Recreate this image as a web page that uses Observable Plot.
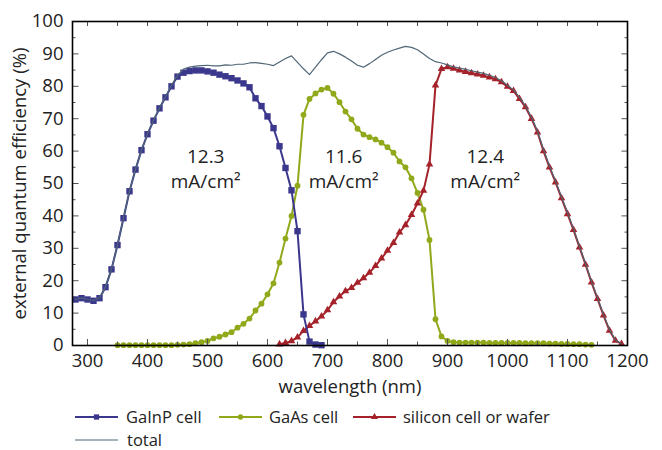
<!DOCTYPE html>
<html><head><meta charset="utf-8">
<script src="https://cdn.jsdelivr.net/npm/d3@7"></script>
<script src="https://cdn.jsdelivr.net/npm/@observablehq/plot@0.6"></script>
<style>
body{margin:0;background:#fff;font-family:"Open Sans",sans-serif;overflow:hidden;}
#chart{width:662px;}
svg{display:block;}
</style></head><body><div id="chart"></div><script>
// ---- data ----
const seriesNames = ["GaInP cell", "GaAs cell", "silicon cell or wafer", "total"];
const gainpWl = [280,290,300,310,320,330,340,350,360,370,380,390,400,410,420,430,440,450,460,470,480,490,500,510,520,530,540,550,560,570,580,590,600,610,620,630,640,650,660,670,680,690];
const gainpQE = [14.2,14.6,14.2,13.8,14.6,18.0,23.5,31.0,39.3,47.6,54.3,60.3,65.2,69.4,73.2,76.6,80.0,83.0,84.2,84.7,84.9,84.9,84.6,84.2,83.6,83.1,82.5,81.8,80.9,79.7,76.3,73.9,70.7,67.1,61.5,54.8,47.9,35.3,9.6,1.2,0.3,0.1];
const gaasWl = [350,360,370,380,390,400,410,420,430,440,450,460,470,480,490,500,510,520,530,540,550,560,570,580,590,600,610,620,630,640,650,660,670,680,690,700,710,720,730,740,750,760,770,780,790,800,810,820,830,840,850,860,870,880,890,900,910,920,930,940,950,960,970,980,990,1000,1010,1020,1030,1040,1050,1060,1070,1080,1090,1100,1110,1120,1130,1140];
const gaasQE = [0.1,0.1,0.1,0.1,0.1,0.1,0.1,0.1,0.1,0.1,0.2,0.3,0.4,0.7,1.0,1.4,2.2,2.7,3.4,4.1,5.5,6.7,8.3,10.8,12.9,15.8,19.2,25.6,33.0,40.0,49.3,71.2,76.1,77.8,79.0,79.5,77.7,75.1,72.2,69.8,66.9,65.1,64.3,63.6,62.6,61.2,59.5,56.8,55.0,51.6,47.1,41.9,32.6,8.1,2.8,1.4,1.0,0.9,0.9,0.9,0.9,0.9,0.8,0.8,0.8,0.8,0.8,0.8,0.7,0.7,0.7,0.7,0.6,0.6,0.5,0.5,0.4,0.4,0.3,0.2];
const siWl = [620,630,640,650,660,670,680,690,700,710,720,730,740,750,760,770,780,790,800,810,820,830,840,850,860,870,880,890,900,910,920,930,940,950,960,970,980,990,1000,1010,1020,1030,1040,1050,1060,1070,1080,1090,1100,1110,1120,1130,1140,1150,1160,1170,1180,1190];
const siQE = [0.4,0.8,1.4,2.5,4.5,6.1,7.5,9.0,10.9,13.4,15.2,16.8,17.8,19.4,20.8,22.5,24.6,26.9,29.3,31.7,34.9,37.2,40.3,43.9,47.8,55.9,80.3,85.4,85.9,85.5,84.9,84.5,84.1,83.7,83.3,82.8,82.2,81.3,79.9,78.6,76.1,73.6,70.0,65.8,60.0,55.0,50.4,45.5,40.6,35.7,30.3,25.0,19.5,14.4,9.3,4.6,1.5,0.5];
const totalWl = [280,290,300,310,320,330,340,350,360,370,380,390,400,410,420,430,440,450,460,470,480,490,500,510,520,530,540,550,560,570,580,590,600,610,620,630,640,650,660,670,680,690,700,710,720,730,740,750,760,770,780,790,800,810,820,830,840,850,860,870,880,890,900,910,920,930,940,950,960,970,980,990,1000,1010,1020,1030,1040,1050,1060,1070,1080,1090,1100,1110,1120,1130,1140,1150,1160,1170,1180,1190];
const totalQE = [14.2,14.7,14.2,13.9,14.7,18.1,23.6,31.1,39.4,47.7,54.4,60.4,65.3,69.5,73.3,76.8,80.3,83.4,85.3,85.9,86.2,86.4,86.5,86.3,86.3,86.6,86.5,86.8,86.8,87.2,87.3,87.1,86.8,86.4,87.5,88.6,89.4,87.4,85.4,83.6,85.9,88.2,90.3,90.8,90.0,89.0,87.8,86.5,85.9,87.0,88.3,89.6,90.5,91.2,91.8,92.3,92.0,91.3,90.0,88.6,87.6,87.2,86.6,86.0,85.6,85.2,84.8,84.4,84.0,83.4,82.7,81.7,80.3,78.9,76.6,74.0,70.4,66.2,60.5,55.4,50.8,45.9,41.0,36.0,30.6,25.3,19.8,14.7,9.6,4.9,1.7,0.5];
const currentLabels = ["12.3\nmA/cm²", "11.6\nmA/cm²", "12.4\nmA/cm²"];
const currentWl = [497, 727, 963];
const currentQE = [55, 55, 55];
const xTickLabels = [300,400,500,600,700,800,900,1000,1100,1200];
const xMinorTicks = [300,350,400,450,500,550,600,650,700,750,800,850,900,950,1000,1050,1100,1150,1200];
const yTickLabels = [0,10,20,30,40,50,60,70,80,90,100];
const yMinorTicks = [5,15,25,35,45,55,65,75,85,95];

// ---- build ----
const BLUE = "#3b378c", GREEN = "#8fa91a", RED = "#a5222a", GREY = "#4f6776";
const zip = (xs, ys) => xs.map((x, i) => ({x, y: ys[i]}));
const gainp = zip(gainpWl, gainpQE), gaas = zip(gaasWl, gaasQE), si = zip(siWl, siQE), total = zip(totalWl, totalQE);
const ann = currentLabels.map((t, i) => ({t, x: currentWl[i], y: currentQE[i]}));
const TICK = "#555";

const plot = Plot.plot({
  width: 662, height: 398,
  marginLeft: 72, marginRight: 35, marginTop: 21, marginBottom: 53,
  style: {fontFamily: "'Open Sans', sans-serif", fontSize: "17px", color: "#222", background: "#fff"},
  x: {domain: [275, 1200]},
  y: {domain: [0, 100]},
  marks: [
    Plot.line(gaas, {x: "x", y: "y", stroke: GREEN, strokeWidth: 2}),
    Plot.dot(gaas, {x: "x", y: "y", r: 2.9, fill: GREEN, symbol: "circle"}),
    Plot.line(si, {x: "x", y: "y", stroke: RED, strokeWidth: 2}),
    Plot.dot(si, {x: "x", y: "y", r: 2.8, fill: RED, symbol: "triangle"}),
    Plot.line(gainp, {x: "x", y: "y", stroke: BLUE, strokeWidth: 2}),
    Plot.dot(gainp, {x: "x", y: "y", r: 3.6, fill: BLUE, symbol: "square"}),
    Plot.line(total, {x: "x", y: "y", stroke: GREY, strokeWidth: 1.2}),
    Plot.text(ann, {x: "x", y: "y", text: "t", fontSize: 19, lineHeight: 1.35, fill: "#222"}),
    // inward ticks
    Plot.axisX({ticks: xMinorTicks, tickSize: -3.5, fill: "none", stroke: TICK, anchor: "bottom", label: null}),
    Plot.axisX({ticks: xTickLabels, tickSize: -6, fill: "none", stroke: TICK, anchor: "bottom", label: null}),
    Plot.axisX({ticks: xMinorTicks, tickSize: -4, fill: "none", stroke: TICK, anchor: "top", label: null}),
    Plot.axisY({ticks: yMinorTicks, tickSize: -3.5, fill: "none", stroke: TICK, anchor: "left", label: null}),
    Plot.axisY({ticks: yTickLabels, tickSize: -6.5, fill: "none", stroke: TICK, anchor: "left", label: null}),
    Plot.axisY({ticks: yMinorTicks, tickSize: -3.5, fill: "none", stroke: TICK, anchor: "right", label: null}),
    Plot.axisY({ticks: yTickLabels, tickSize: -6.5, fill: "none", stroke: TICK, anchor: "right", label: null}),
    // labels
    Plot.axisX({ticks: xTickLabels, tickSize: 0, tickPadding: 8, anchor: "bottom", fontSize: 18.5, tickFormat: d => String(d),
      label: "wavelength (nm)", labelAnchor: "center", labelOffset: 47, labelArrow: "none"}),
    Plot.axisY({ticks: yTickLabels, tickSize: 0, tickPadding: 9, anchor: "left", fontSize: 18.5, tickFormat: d => String(d),
      label: "external quantum efficiency (%)", labelAnchor: "center", labelOffset: 60, labelArrow: "none"}),
    Plot.frame({stroke: "#000", strokeWidth: 1.6})
  ]
});
document.getElementById("chart").appendChild(plot);

// ---- legend below the plot ----
const legendItems = [
  {name: seriesNames[0], color: BLUE, sym: d3.symbolSquare, size: 28, x0: 75, tx: 126, y: 19},
  {name: seriesNames[1], color: GREEN, sym: d3.symbolCircle, size: 22, x0: 219, tx: 269, y: 19},
  {name: seriesNames[2], color: RED, sym: d3.symbolTriangle, size: 22, x0: 353, tx: 403, y: 19},
  {name: seriesNames[3], color: GREY, sym: null, size: 0, x0: 75, tx: 127, y: 42}
];
const leg = d3.create("svg").attr("width", 662).attr("height", 52)
  .style("font-family", "'Open Sans', sans-serif").style("font-size", "16.5px");
for (const it of legendItems) {
  const g = leg.append("g");
  g.append("line").attr("x1", it.x0).attr("x2", it.x0 + 43).attr("y1", it.y).attr("y2", it.y)
    .attr("stroke", it.color).attr("stroke-width", it.sym ? 2 : 1.2);
  if (it.sym) g.append("path").attr("d", d3.symbol(it.sym, it.size)())
    .attr("transform", `translate(${it.x0 + 21.5},${it.y})`).attr("fill", it.color);
  g.append("text").attr("x", it.tx).attr("y", it.y).attr("dy", "0.35em").attr("fill", "#222").text(it.name);
}
document.getElementById("chart").appendChild(leg.node());
</script></body></html>
